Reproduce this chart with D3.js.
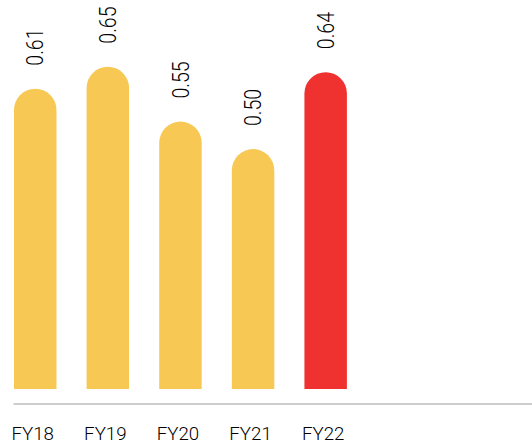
<!DOCTYPE html>
<html>
<head>
<meta charset="utf-8">
<script src="https://cdn.jsdelivr.net/npm/d3@7"></script>
<style>
  body { margin: 0; background: #fff; }
  text { font-family: "Roboto", "Liberation Sans", sans-serif; }
</style>
</head>
<body>
<script>
var years = ['FY18', 'FY19', 'FY20', 'FY21', 'FY22'];
var values = [0.61, 0.65, 0.55, 0.50, 0.64];
var highlight = 'FY22';

var width = 532, height = 445;
var yellow = '#f8c854', red = '#ef3230';

var svg = d3.select('body').append('svg')
  .attr('width', width)
  .attr('height', height);

var x = d3.scaleBand()
  .domain(years)
  .range([14, 346.9])
  .paddingInner(0.415)
  .paddingOuter(0);

var y = d3.scaleLinear()
  .domain([0.063, 0.65])
  .range([389, 66.7]);

var data = years.map(function(d, i) { return { year: d, value: values[i] }; });

// bar with a round cap on top
function barPath(d) {
  var x0 = x(d.year), w = x.bandwidth(), r = w / 2;
  var top = y(d.value), bottom = y.range()[0];
  return 'M' + x0 + ',' + bottom +
    'L' + x0 + ',' + (top + r) +
    'A' + r + ',' + r + ' 0 0 1 ' + (x0 + w) + ',' + (top + r) +
    'L' + (x0 + w) + ',' + bottom + 'Z';
}

svg.selectAll('path.bar')
  .data(data)
  .enter().append('path')
  .attr('class', 'bar')
  .attr('d', barPath)
  .style('fill', function(d) { return d.year === highlight ? red : yellow; });

// value labels, rotated
svg.selectAll('text.val')
  .data(data)
  .enter().append('text')
  .attr('class', 'val')
  .attr('transform', function(d) {
    return 'translate(' + (x(d.year) + x.bandwidth() / 2 + 8.2) + ',' + (y(d.value) - 23) + ') rotate(-90) scale(0.85,1)';
  })
  .attr('text-anchor', 'start')
  .style('font-size', '23px')
  .style('font-weight', 300)
  .style('fill', '#000')
  .text(function(d) { return d3.format('.2f')(d.value); });

// baseline
svg.append('line')
  .attr('x1', 13.5).attr('x2', width)
  .attr('y1', 404).attr('y2', 404)
  .style('stroke', '#bdbdbd')
  .style('stroke-width', 1.5);

var xAxis = d3.axisBottom(x).tickSize(0).tickPadding(0);
var gx = svg.append('g')
  .attr('transform', 'translate(-2.5,440)')
  .call(xAxis);
gx.select('.domain').remove();
gx.selectAll('text')
  .attr('dy', 0)
  .style('font-size', '18.7px')
  .style('font-weight', 300)
  .style('font-family', 'Roboto, sans-serif')
  .style('fill', '#000');
</script>
</body>
</html>
